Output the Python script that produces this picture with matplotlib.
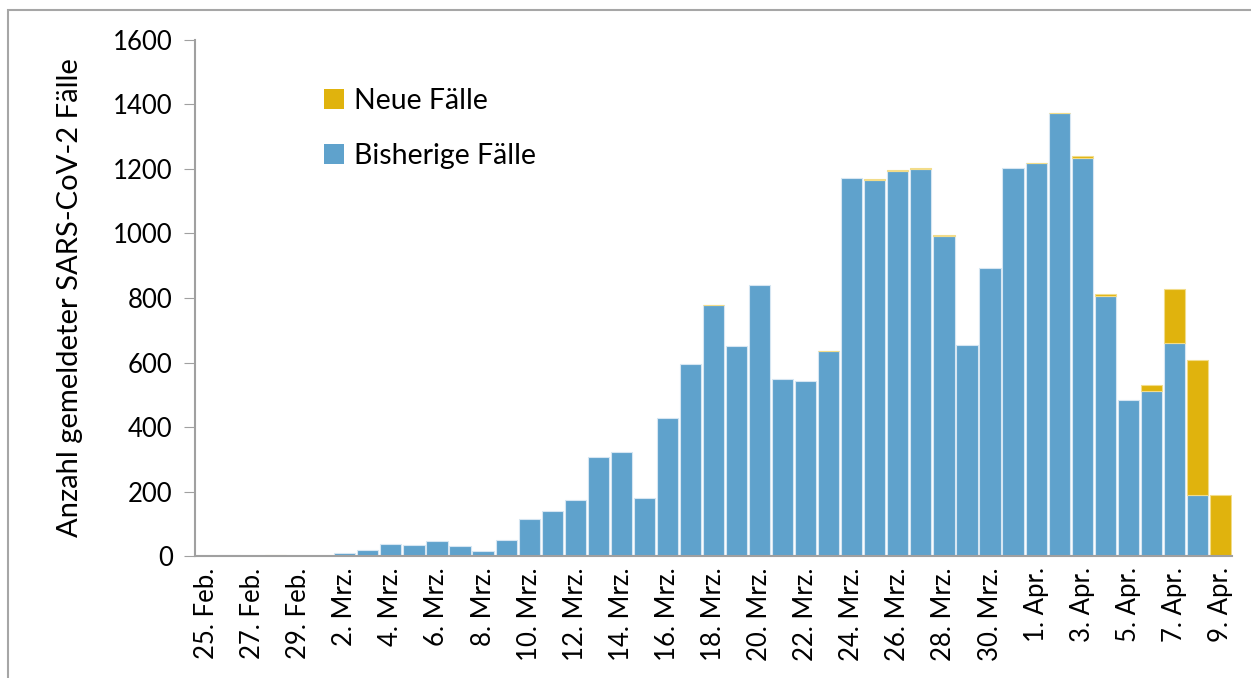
import matplotlib.pyplot as plt
from matplotlib.patches import Rectangle

plt.rcParams['font.family'] = ['Lato', 'DejaVu Sans']

# 25. Feb. .. 9. Apr. (2020), one bar per day
days = ['25. Feb.', '26. Feb.', '27. Feb.', '28. Feb.', '29. Feb.'] + \
       ['%d. Mrz.' % d for d in range(1, 32)] + \
       ['%d. Apr.' % d for d in range(1, 10)]

bisherige = [0, 4, 2, 2, 1,
             0, 10, 20, 38, 35, 47, 31, 15, 52, 116, 141, 175, 306, 324, 180,
             427, 594, 777, 651, 839, 548, 543, 635, 1171, 1166, 1193, 1199,
             991, 653, 894, 1202,
             1217, 1371, 1233, 807, 485, 513, 661, 190, 0]

neue = [0, 0, 0, 1, 0,
        0, 0, 0, 0, 0, 0, 0, 0, 0, 0, 0, 0, 0, 0, 0,
        0, 0, 2, 0, 0, 0, 0, 1, 0, 1, 4, 4,
        4, 0, 0, 0,
        1, 1, 7, 5, 0, 17, 166, 418, 190]

blue = '#5fa2cc'
yellow = '#e0b30d'

fig = plt.figure(figsize=(12.51, 6.78), dpi=100)
ax = fig.add_axes([0.1559, 0.1795, 0.8289, 0.7622])

x = list(range(len(days)))
ax.bar(x, bisherige, width=0.92, color=blue,
       edgecolor=['#d6e6f2' if v > 0 else 'none' for v in bisherige],
       linewidth=0.8, label='Bisherige Fälle')
ax.bar(x, neue, bottom=bisherige, width=0.92, color=yellow,
       edgecolor=['#f2dc8a' if v > 0 else 'none' for v in neue],
       linewidth=0.8, label='Neue Fälle')

ax.set_xlim(-0.5, len(days) - 0.5)
ax.set_ylim(0, 1600)
ax.set_yticks(range(0, 1601, 200))
ax.set_xticks(x[::2])
ax.set_xticklabels(days[::2], rotation=90, fontsize=18.5)
ax.tick_params(axis='y', labelsize=18.5, length=8, color='#a0a0a0', pad=8)
ax.tick_params(axis='x', length=0, pad=8)
ax.set_ylabel('Anzahl gemeldeter SARS-CoV-2 Fälle', fontsize=21, labelpad=22)

for s in ['top', 'right']:
    ax.spines[s].set_visible(False)
for s in ['left', 'bottom']:
    ax.spines[s].set_color('#a0a0a0')
    ax.spines[s].set_linewidth(1.5)

handles, labels = ax.get_legend_handles_labels()
ax.legend(handles[::-1], labels[::-1], loc='upper left', bbox_to_anchor=(0.1, 0.955),
          frameon=False, fontsize=20.5, handlelength=0.7, handleheight=0.7,
          handletextpad=0.35, labelspacing=1.0)

# frame of the original figure
fig.patches.append(Rectangle((7.5 / 1251, -0.1), 1.2, 1.1 - 10 / 678,
                             transform=fig.transFigure, fill=False,
                             edgecolor='#a6a6a6', linewidth=1.5))

fig.savefig('out.png', dpi=100)
